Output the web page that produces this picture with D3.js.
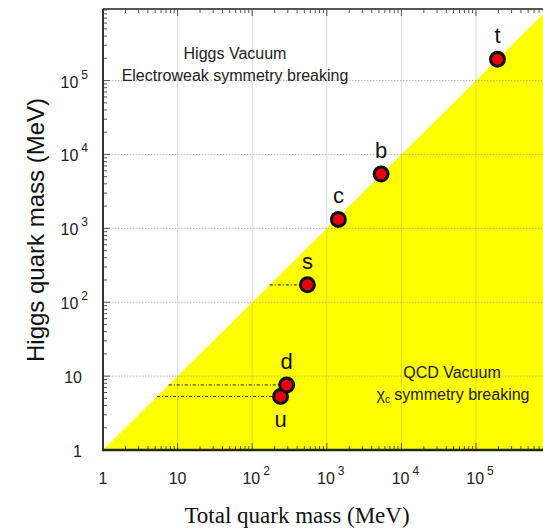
<!DOCTYPE html>
<html><head><meta charset="utf-8">
<script src="https://cdn.jsdelivr.net/npm/d3@7"></script>
<style>body{margin:0;background:#fff}svg{display:block}</style>
</head><body>
<svg id="chart" width="543" height="530"></svg>
<script>
const quarks = ["u","d","s","c","b","t"];
const totalMass = [240, 290, 550, 1430, 5350, 194000];
const higgsMass = [5.3, 7.6, 172, 1320, 5430, 194000];
const dashedQuarks = ["u","d","s"];
const tickValues = [1, 10, 100, 1000, 10000, 100000];
const tickBase = ["1", "10", "10", "10", "10", "10"];
const tickExp = ["", "", "2", "3", "4", "5"];

(function(){
const svg = d3.select("#chart");
const W = 543, H = 530;
const pL = 103, pT = 9, pB = 450, pR = 550.6;
const x = d3.scaleLog().domain([1, 1e6]).range([pL, pR]);
const y = d3.scaleLog().domain([1, 9.3e5]).range([pB, pT]);

svg.append("defs").append("clipPath").attr("id","plotclip")
  .append("rect").attr("x", pL).attr("y", pT).attr("width", pR-pL).attr("height", pB-pT);

const g = svg.append("g").attr("clip-path","url(#plotclip)");

// yellow QCD region (below y = x)
const line = d3.line().x(d => x(d[0])).y(d => y(d[1]));
g.append("path").attr("d", line([[1,1],[1e6,1e6],[1e6,1]]) + "Z").attr("fill", "#ffff00");

// grid
const minorVals = [];
for (let e = 0; e < 6; e++) for (let k = 2; k <= 9; k++) minorVals.push(k * Math.pow(10, e));
g.selectAll(".vgrid").data(tickValues.slice(1)).join("line")
  .attr("x1", d => x(d)).attr("x2", d => x(d)).attr("y1", pT).attr("y2", pB)
  .attr("stroke", "#999").attr("stroke-opacity", 0.35).attr("stroke-width", 1);
g.selectAll(".hgrid").data(tickValues.slice(1)).join("line")
  .attr("y1", d => y(d)).attr("y2", d => y(d)).attr("x1", pL).attr("x2", pR)
  .attr("stroke", "#888").attr("stroke-opacity", 0.6).attr("stroke-width", 1).attr("stroke-dasharray", "1.5,1.5");

// ticks (inward)
const tk = svg.append("g").attr("stroke", "#555");
tk.selectAll(".tmaj").data(tickValues).join("line")
  .attr("x1", d => x(d)).attr("x2", d => x(d)).attr("y1", pT).attr("y2", pT + 7);
tk.selectAll(".tmin").data(minorVals).join("line")
  .attr("x1", d => x(d)).attr("x2", d => x(d)).attr("y1", pT).attr("y2", pT + 4);
tk.selectAll(".bmaj").data(tickValues).join("line")
  .attr("x1", d => x(d)).attr("x2", d => x(d)).attr("y1", pB).attr("y2", pB - 7);
tk.selectAll(".bmin").data(minorVals).join("line")
  .attr("x1", d => x(d)).attr("x2", d => x(d)).attr("y1", pB).attr("y2", pB - 4);
tk.selectAll(".lmaj").data(tickValues).join("line")
  .attr("y1", d => y(d)).attr("y2", d => y(d)).attr("x1", pL).attr("x2", pL + 7);
tk.selectAll(".lmin").data(minorVals.filter(v => v < 9.3e5)).join("line")
  .attr("y1", d => y(d)).attr("y2", d => y(d)).attr("x1", pL).attr("x2", pL + 4);

// frame
svg.append("line").attr("x1", pL).attr("x2", W).attr("y1", pT).attr("y2", pT).attr("stroke", "#555").attr("stroke-width", 2);
svg.append("line").attr("x1", pL).attr("x2", pL).attr("y1", pT).attr("y2", pB).attr("stroke", "#333").attr("stroke-width", 2);
svg.append("line").attr("x1", pL - 1).attr("x2", W).attr("y1", pB).attr("y2", pB).attr("stroke", "#2a2a10").attr("stroke-width", 2.5);

// dashed lines from Higgs mass to total mass
const data = quarks.map((q, i) => ({q, tm: totalMass[i], hm: higgsMass[i]}));
g.selectAll(".dash").data(data.filter(d => dashedQuarks.includes(d.q))).join("line")
  .attr("x1", d => x(d.hm)).attr("x2", d => x(d.tm)).attr("y1", d => y(d.hm)).attr("y2", d => y(d.hm))
  .attr("stroke", "#444").attr("stroke-width", 1.2).attr("stroke-dasharray", "3,2,1,2");

// points
svg.selectAll(".pt").data(data).join("circle")
  .attr("cx", d => x(d.tm)).attr("cy", d => y(d.hm)).attr("r", 7)
  .attr("fill", "#e8000b").attr("stroke", "#111").attr("stroke-width", 3);

// point labels
svg.selectAll(".pl").data(data).join("text")
  .attr("x", d => x(d.tm)).attr("y", d => d.q === "u" ? y(d.hm) + 31 : y(d.hm) - 16)
  .attr("text-anchor", "middle").attr("font-family", "Liberation Sans, Arial, sans-serif")
  .attr("font-size", 22).attr("fill", "#111").text(d => d.q);

// region texts
const rt = svg.append("g").attr("font-family", "Liberation Sans, Arial, sans-serif").attr("font-size", 16).attr("fill", "#222").attr("text-anchor", "middle");
rt.append("text").attr("x", 235).attr("y", 59).text("Higgs Vacuum");
rt.append("text").attr("x", 235).attr("y", 81).text("Electroweak symmetry breaking");
rt.append("text").attr("x", 452).attr("y", 378).text("QCD Vacuum");
const chi = rt.append("text").attr("x", 453).attr("y", 400);
chi.append("tspan").text("χ");
chi.append("tspan").attr("font-size", 10).attr("dy", 3).text("c");
chi.append("tspan").attr("dy", -3).text(" symmetry breaking");

// x tick labels
const tl = svg.append("g").attr("font-family", "Liberation Sans, Arial, sans-serif").attr("fill", "#222");
tickValues.forEach((v, i) => {
  const t = tl.append("text").attr("x", x(v) + (tickExp[i] ? 4 : 0)).attr("y", 484).attr("text-anchor", "middle").attr("font-size", 16);
  t.append("tspan").text(tickBase[i]);
  if (tickExp[i]) t.append("tspan").attr("font-size", 12).attr("dy", -9).attr("dx", 3).text(tickExp[i]);
});
// y tick labels
tickValues.forEach((v, i) => {
  const t = tl.append("text").attr("x", tickExp[i] ? 88 : 82).attr("y", y(v) + 7).attr("text-anchor", "end").attr("font-size", 16);
  t.append("tspan").text(tickBase[i]);
  if (tickExp[i]) t.append("tspan").attr("font-size", 12).attr("dy", -9).attr("dx", 3).text(tickExp[i]);
});

// axis titles
svg.append("text").attr("x", 297).attr("y", 523).attr("text-anchor", "middle")
  .attr("font-family", "Liberation Serif, Times New Roman, serif").attr("font-size", 23).attr("fill", "#111")
  .text("Total quark mass (MeV)");
svg.append("text").attr("transform", "translate(44,230) rotate(-90)").attr("text-anchor", "middle")
  .attr("font-family", "Liberation Sans, Arial, sans-serif").attr("font-size", 24).attr("fill", "#111")
  .text("Higgs quark mass (MeV)");
})();
</script>
</body></html>
